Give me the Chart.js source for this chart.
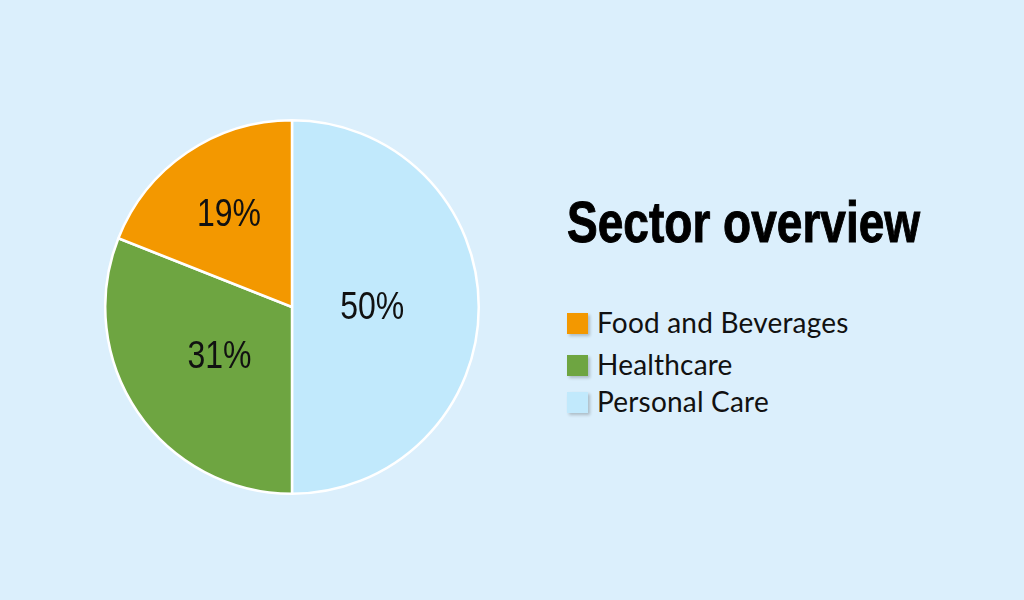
<!DOCTYPE html>
<html lang="en">

<head>
    <meta charset="UTF-8">
    <meta name="viewport" content="width=device-width, initial-scale=1.0">
    <script src="https://cdn.jsdelivr.net/npm/chart.js"></script>
    <title>Sector overview</title>
    <style>
        body {
            margin: 0;
            width: 1024px;
            height: 600px;
            background: #dbeffc;
            position: relative;
            overflow: hidden;
        }

        .pie-box {
            position: absolute;
            left: 104px;
            top: 119px;
            width: 376px;
            height: 376px;
        }

        .titulo {
            position: absolute;
            left: 567px;
            top: 194px;
            margin: 0;
            font-family: "Liberation Sans", Arial, sans-serif;
            font-weight: bold;
            font-size: 57px;
            line-height: 57px;
            color: #000;
            white-space: nowrap;
            transform-origin: 0 0;
            -webkit-text-stroke: 1px #000;
        }

        .legenda-item {
            position: absolute;
            left: 567px;
            height: 28px;
            font-family: Lato, "Noto Sans", sans-serif;
            font-size: 28px;
            line-height: 28px;
            letter-spacing: 0.2px;
            color: #111;
            white-space: nowrap;
        }

        .legenda-item span.caixa {
            position: absolute;
            left: 0;
            top: 5px;
            width: 21px;
            height: 21px;
            box-shadow: 2px 2px 3px rgba(0, 0, 0, 0.22);
        }

        .legenda-item span.texto {
            position: absolute;
            left: 30px;
            top: 0;
        }
    </style>
</head>

<body>
    <div class="pie-box">
        <canvas id="pieChart"></canvas>
    </div>
    <h1 class="titulo" id="titulo">Sector overview</h1>
    <div id="legenda"></div>
    <script>
        // pie order is clockwise from 12 o'clock, legend is listed the other way round
        const categorias = ['Personal Care', 'Healthcare', 'Food and Beverages'];
        const valores = [50, 31, 19];
        const cores = ['#c1e9fc', '#6ea541', '#f39800'];

        // how far from the center each label sits (fraction of the radius)
        const posRotulo = [0.43, 0.47, 0.6];
        const topoLegenda = [387, 350, 308];

        // no condensed font installed, so squeeze the title to its width
        const titulo = document.getElementById('titulo');
        titulo.style.transform = 'scaleX(' + (353 / titulo.offsetWidth) + ')';

        const rotulosPlugin = {
            id: 'rotulos',
            afterDatasetsDraw(chart) {
                const ctx = chart.ctx;
                const arcos = chart.getDatasetMeta(0).data;
                ctx.save();
                ctx.font = '39px "Liberation Sans", Arial, sans-serif';
                ctx.fillStyle = '#111';
                ctx.textAlign = 'center';
                ctx.textBaseline = 'middle';
                arcos.forEach(function (arco, i) {
                    const meio = (arco.startAngle + arco.endAngle) / 2;
                    const r = arco.outerRadius * posRotulo[i];
                    const x = arco.x + Math.cos(meio) * r;
                    const y = arco.y + Math.sin(meio) * r;
                    ctx.save();
                    ctx.translate(x, y + 1);
                    ctx.scale(0.82, 1);
                    ctx.fillText(valores[i] + '%', 0, 0);
                    ctx.restore();
                });
                ctx.restore();
            }
        };

        const ctxPie = document.getElementById('pieChart').getContext('2d');
        new Chart(ctxPie, {
            type: 'pie',
            data: {
                labels: categorias,
                datasets: [{
                    data: valores,
                    backgroundColor: cores,
                    borderColor: '#ffffff',
                    borderWidth: 2.5
                }]
            },
            options: {
                responsive: true,
                maintainAspectRatio: false,
                animation: false,
                events: [],
                plugins: {
                    legend: { display: false },
                    tooltip: { enabled: false }
                }
            },
            plugins: [rotulosPlugin]
        });

        const legenda = document.getElementById('legenda');
        for (let i = categorias.length - 1; i >= 0; i--) {
            const item = document.createElement('div');
            item.className = 'legenda-item';
            item.style.top = topoLegenda[i] + 'px';
            item.innerHTML = '<span class="caixa" style="background:' + cores[i] + '"></span>' +
                '<span class="texto">' + categorias[i] + '</span>';
            legenda.appendChild(item);
        }
    </script>
</body>

</html>
